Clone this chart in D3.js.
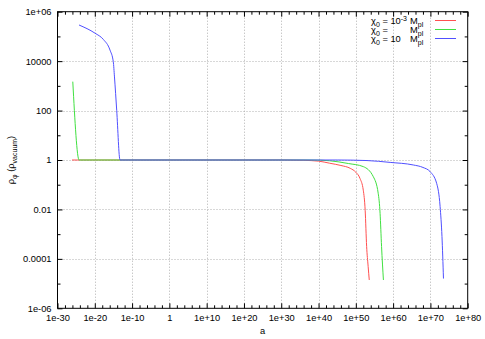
<!DOCTYPE html>
<html><head><meta charset="utf-8">
<script src="https://cdn.jsdelivr.net/npm/d3@7"></script>
<style>
body{margin:0;background:#fff;}
text{font-family:"Liberation Sans",Arial,sans-serif;fill:#000;}
</style></head><body>
<svg id="c" width="485" height="339"></svg>
<script>
// ---- data ----
const xTickValues = [1e-30,1e-20,1e-10,1,1e10,1e20,1e30,1e40,1e50,1e60,1e70,1e80];
const xTickLabels = ["1e-30","1e-20","1e-10","1","1e+10","1e+20","1e+30","1e+40","1e+50","1e+60","1e+70","1e+80"];
const yTickValues = [1e-6,1e-4,1e-2,1,1e2,1e4,1e6];
const yTickLabels = ["1e-06","0.0001","0.01","1","100","10000","1e+06"];

const redA   = [7.9e-27,6.3e-25,1,1e30,1e36,1e40,1e43,1e46,3.2e48,1e50,1.3e51,1e52,3.2e52,7.9e52,2e53,4e53];
const redRho = [1,1,1,1,0.97,0.9,0.74,0.6,0.46,0.32,0.18,0.06,0.0093,3.2e-4,5e-5,1.4e-5];

const greenA   = [1.26e-26,6.3e-25,1,1e38,1e43,1e48,1e52,5e54,1e56,3.2e56,7.9e56,2.5e57];
const greenRho = [1480,1,1,1,0.93,0.72,0.54,0.21,0.045,0.0069,3.2e-4,1.4e-5];

const blueA   = [5.9e-25,1.15e-20,1.9e-18,1.2e-16,9.1e-16,1.9e-15,7.6e-15,5.8e-14,1,1e45,1e53,1.6e59,2.5e65,1e68,8e69,5e71,4e72,1.26e73,3.2e73];
const blueRho = [2.9e5,1.35e5,7.6e4,2.8e4,9500,2300,100,1,1,1,0.95,0.8,0.63,0.5,0.34,0.11,0.013,8e-4,1.6e-5];

const seriesNames = ["red","green","blue"];
// ---- drawing ----
const svg = d3.select("#c");
const L=57.5, R=467.7, T=11.7, B=308.3;
const x = d3.scaleLog().domain([1e-30,1e80]).range([L,R]);
const y = d3.scaleLog().domain([1e-6,1e6]).range([B,T]);

const xMinor = d3.range(-30,81,2).filter(e=>e%10!==0).map(e=>Math.pow(10,e));
const yMinor = d3.range(-6,7,1).filter(e=>e%2!==0).map(e=>Math.pow(10,e));

// grid
const g = svg.append("g").attr("stroke","#b0b0b0").attr("stroke-width",1).attr("stroke-dasharray","1,2");
xTickValues.slice(1,-1).forEach(v=>{const px=Math.round(x(v))+0.5;g.append("line").attr("x1",px).attr("x2",px).attr("y1",T).attr("y2",B);});
yTickValues.slice(1,-1).forEach(v=>{const py=Math.round(y(v))+0.5;g.append("line").attr("x1",L).attr("x2",R).attr("y1",py).attr("y2",py);});

// series
const line = d3.line().x(d=>x(d[0])).y(d=>y(d[1])).curve(d3.curveMonotoneX);
const series = [
  {a:redA, r:redRho, c:"#ff5050"},
  {a:greenA, r:greenRho, c:"#40e040"},
  {a:blueA, r:blueRho, c:"#5050ff"}
];
series.forEach(s=>{
  const pts = s.a.map((v,i)=>[v,s.r[i]]);
  svg.append("path").attr("d",line(pts)).attr("fill","none").attr("stroke",s.c).attr("stroke-width",1);
});

// axes
const fmtX = v=>xTickLabels[xTickValues.indexOf(v)];
const fmtY = v=>yTickLabels[yTickValues.indexOf(v)];
function style(sel){sel.selectAll("text").style("font-size","9.3px").style("font-family","Liberation Sans, Arial, sans-serif");sel.select(".domain").remove();sel.selectAll("line").attr("stroke","#000");}
svg.append("g").attr("transform",`translate(0,${B})`).call(d3.axisBottom(x).tickValues(xTickValues).tickFormat(fmtX).tickSizeInner(-5).tickSizeOuter(0).tickPadding(6)).call(style);
svg.append("g").attr("transform",`translate(0,${B})`).call(d3.axisBottom(x).tickValues(xMinor).tickFormat("").tickSizeInner(-3).tickSizeOuter(0)).call(style);
svg.append("g").attr("transform",`translate(0,${T})`).call(d3.axisTop(x).tickValues(xTickValues).tickFormat("").tickSizeInner(-5).tickSizeOuter(0)).call(style);
svg.append("g").attr("transform",`translate(0,${T})`).call(d3.axisTop(x).tickValues(xMinor).tickFormat("").tickSizeInner(-3).tickSizeOuter(0)).call(style);
svg.append("g").attr("transform",`translate(${L},0)`).call(d3.axisLeft(y).tickValues(yTickValues).tickFormat(fmtY).tickSizeInner(-5).tickSizeOuter(0).tickPadding(6)).call(style);
svg.append("g").attr("transform",`translate(${L},0)`).call(d3.axisLeft(y).tickValues(yMinor).tickFormat("").tickSizeInner(-3).tickSizeOuter(0)).call(style);
svg.append("g").attr("transform",`translate(${R},0)`).call(d3.axisRight(y).tickValues(yTickValues).tickFormat("").tickSizeInner(-5).tickSizeOuter(0)).call(style);
svg.append("g").attr("transform",`translate(${R},0)`).call(d3.axisRight(y).tickValues(yMinor).tickFormat("").tickSizeInner(-3).tickSizeOuter(0)).call(style);

// frame
svg.append("rect").attr("x",L).attr("y",T).attr("width",R-L).attr("height",B-T).attr("fill","none").attr("stroke","#000").attr("stroke-width",1);

// axis labels
svg.append("text").attr("x",(L+R)/2).attr("y",334).attr("text-anchor","middle").style("font-size","9.3px").text("a");
const yl = svg.append("text").attr("transform","translate(14,160) rotate(-90)").attr("text-anchor","middle").style("font-size","9.3px");
yl.append("tspan").text("ρ");
yl.append("tspan").attr("dy",3).style("font-size","7px").text("φ");
yl.append("tspan").attr("dy",-3).text("  (ρ");
yl.append("tspan").attr("dy",3).style("font-size","7px").text("vacuum");
yl.append("tspan").attr("dy",-3).text(")");

// legend
const rows = [
  {pre:"χ", sub:"0", mid:" = 10", sup:"-3", c:"#ff5050", by:24},
  {pre:"χ", sub:"0", mid:" =", sup:"", c:"#40e040", by:33},
  {pre:"χ", sub:"0", mid:" = 10", sup:"", c:"#5050ff", by:42}
];
rows.forEach(r=>{
  const t = svg.append("text").attr("x",371).attr("y",r.by).style("font-size","9.3px");
  t.append("tspan").text(r.pre);
  t.append("tspan").attr("dy",2.5).style("font-size","7px").text(r.sub);
  t.append("tspan").attr("dy",-2.5).text(r.mid);
  if(r.sup){t.append("tspan").attr("dy",-3.5).style("font-size","7px").text(r.sup);}
  const m = svg.append("text").attr("x",410).attr("y",r.by).style("font-size","9.3px");
  m.append("tspan").text("M");
  m.append("tspan").attr("dy",3).style("font-size","7px").text("pl");
  svg.append("line").attr("x1",435).attr("x2",456).attr("y1",r.by-3.5).attr("y2",r.by-3.5).attr("stroke",r.c).attr("stroke-width",1);
});
</script></body></html>
